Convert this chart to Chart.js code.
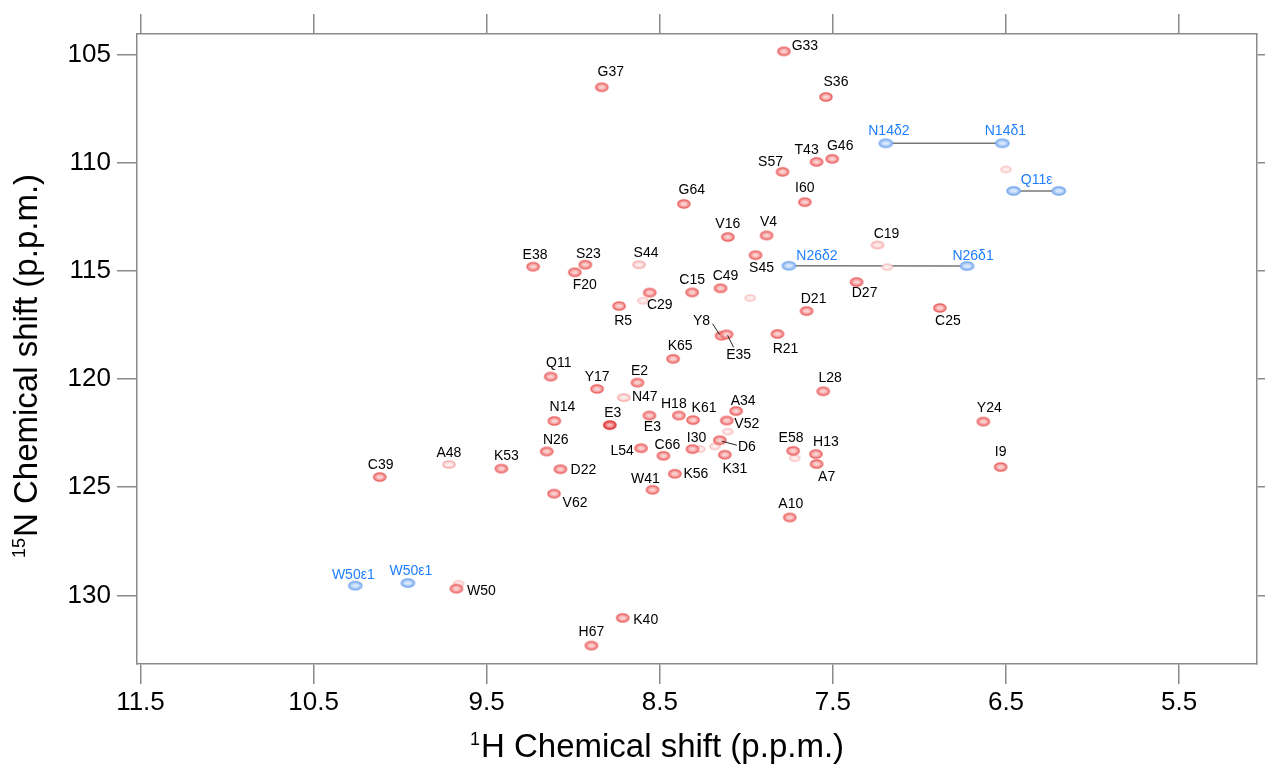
<!DOCTYPE html>
<html lang="en">
<head>
<meta charset="UTF-8">
<title>1H-15N HSQC spectrum</title>
<script src="https://cdn.jsdelivr.net/npm/chart.js"></script>
<style>
  html, body { margin: 0; padding: 0; background: #fff; }
  #wrap { width: 1265px; height: 765px; }
</style>
</head>
<body>
<div id="wrap"><canvas id="hsqc" width="1265" height="765"></canvas></div>
<script>
// backbone amide peaks (1H ppm, 15N ppm)
const resNames = ['G33','G37','S36','T43','G46','S57','I60','G64','V16','V4','C19',
  'E38','S23','F20','S44','S45','C15','C49','C29','R5','D21','D27','C25','Y8','E35','R21',
  'K65','Q11','E2','Y17','L28','N47','A34','H18','E3','K61','E3','N14','V52','Y24','D6',
  'N26','L54','C66','I30','K31','E58','H13','A7','A48','K53','D22','K56','I9','C39','W41',
  'V62','A10','W50','K40','H67'];
const resH = [7.783,8.835,7.540,7.594,7.504,7.791,7.662,8.361,8.107,7.883,7.242,
  9.232,8.930,8.991,8.620,7.947,8.313,8.149,8.558,8.735,7.652,7.363,6.882,8.143,8.114,7.820,
  8.423,9.130,8.629,8.862,7.556,8.708,8.059,8.390,8.560,8.308,8.789,9.109,8.113,6.631,8.153,
  9.153,8.608,8.479,8.311,8.124,7.730,7.598,7.594,9.718,9.415,9.074,8.413,6.531,10.118,8.542,
  9.111,7.749,9.675,8.714,8.895];
const resN = [104.86,106.52,106.97,109.97,109.83,110.43,111.83,111.91,113.44,113.37,113.81,
  114.81,114.72,115.07,114.72,114.28,116.00,115.81,116.01,116.63,116.86,115.52,116.72,118.00,117.94,117.92,
  119.07,119.89,120.17,120.46,120.57,120.86,121.48,121.69,121.69,121.90,122.13,121.94,121.92,121.97,122.83,
  123.35,123.20,123.55,123.24,123.50,123.32,123.47,123.93,123.95,124.14,124.17,124.38,124.07,124.53,125.12,
  125.30,126.40,129.69,131.04,132.32];
// 0 weak, 1 normal, 2 strong
const resIntensity = [1,1,1,1,1,1,1,1,1,1,0,
  1,1,1,0,1,1,1,1,1,1,1,1,1,1,1,
  1,1,1,1,1,0,1,1,1,1,2,1,1,1,1,
  1,1,1,1,1,1,1,1,0,1,1,1,1,1,1,
  1,1,1,1,1];

// side-chain peaks
const scNames = ['N14\u03b42','N14\u03b41','Q11\u03b5','','N26\u03b42','N26\u03b41','W50\u03b51','W50\u03b51'];
const scH = [7.194,6.521,6.456,6.195,7.754,6.725,10.259,9.955];
const scN = [109.11,109.11,111.31,111.31,114.77,114.78,129.55,129.43];
const scPairs = [[0,1],[2,3],[4,5]];

// unassigned weak peaks
const weakH = [6.500,7.186,7.978,8.597,8.182,8.107,8.269,7.720,9.662];
const weakN = [110.32,114.83,116.26,116.38,123.12,122.43,123.24,123.66,129.46];

const xTicks = [11.5,10.5,9.5,8.5,7.5,6.5,5.5];
const yTicks = [105,110,115,120,125,130];

// label placement (pixel offsets from the peak)
const resLabelPos = [[21,-5],[9,-15],[10,-15],[-10,-12],[8,-13],[-12,-10],[0,-14],[8,-14],[0,-13],[2,-13],[9,-11],
  [2,-12],[3,-11],[10,13],[7,-12],[6,13],[0,-12],[5,-12],[10,13],[4,15],[7,-12],[8,11],[8,13],[-20,-15],[12,21],[8,15],
  [7,-13],[8,-13],[2,-12],[0,-12],[7,-13],[21,0],[7,-10],[-5,-11],[3,12],[11,-12],[3,-12],[8,-14],[20,4],[6,-13],[27,7],
  [9,-11],[-19,3],[4,-11],[4,-11],[10,14],[-2,-13],[10,-12],[10,13],[0,-11],[5,-12],[23,1],[21,0],[0,-15],[1,-12],[-7,-11],
  [21,9],[1,-13],[25,2],[23,2],[0,-13]];
const scLabelPos = [[3,-12],[3,-12],[23,-11],[0,0],[28,-10],[6,-10],[-2,-11],[3,-12]];
// leader lines: [peak index, from dx,dy, to dx,dy]
const leaders = [[23,-2,-1,-9,-12],[24,1,1,7,13],[40,2,1,17,5]];

const FONT = "'Liberation Sans', Arial, Helvetica, sans-serif";
const AXIS = '#8a8a8a';

function peakImage(w, h, edge, fill, core) {
  const c = document.createElement('canvas');
  c.width = w + 4; c.height = h + 4;
  const g = c.getContext('2d');
  g.beginPath();
  g.ellipse(c.width / 2, c.height / 2, w / 2, h / 2, 0, 0, Math.PI * 2);
  g.fillStyle = fill; g.fill();
  g.lineWidth = 1.6; g.strokeStyle = edge; g.stroke();
  g.beginPath();
  g.ellipse(c.width / 2, c.height / 2, w / 2 - 3, h / 2 - 2.3, 0, 0, Math.PI * 2);
  g.fillStyle = core; g.fill();
  return c;
}
const redImgs = [
  peakImage(12, 7, '#f5b0b0', '#fbdada', '#fff0f0'),
  peakImage(12, 8, '#ec6666', '#f6a4a4', '#fbd2d2'),
  peakImage(12, 8, '#de3434', '#ee7676', '#f6b6b6')
];
const blueImg = peakImage(13, 8, '#78aaf0', '#aecdf6', '#dae8fb');
const weakImg = peakImage(10, 6, '#f8c4c4', '#fde6e6', '#fff6f6');

const pairSets = scPairs.map(([a, b]) => ({
  data: [{x: scH[a], y: scN[a]}, {x: scH[b], y: scN[b]}],
  showLine: true, borderColor: '#777', borderWidth: 1.5, pointRadius: 0, order: 5
}));

const peakLabels = {
  id: 'peakLabels',
  afterDatasetsDraw(chart) {
    const {ctx, scales: {x, y}} = chart;
    ctx.save();
    ctx.font = '14px ' + FONT;
    ctx.textAlign = 'center';
    ctx.textBaseline = 'middle';
    ctx.fillStyle = '#000';
    resNames.forEach((name, i) => {
      const px = x.getPixelForValue(resH[i]), py = y.getPixelForValue(resN[i]);
      ctx.fillText(name, px + resLabelPos[i][0], py + resLabelPos[i][1]);
    });
    ctx.fillStyle = '#1f7fff';
    scNames.forEach((name, i) => {
      if (!name) return;
      const px = x.getPixelForValue(scH[i]), py = y.getPixelForValue(scN[i]);
      ctx.fillText(name, px + scLabelPos[i][0], py + scLabelPos[i][1]);
    });
    ctx.strokeStyle = '#222';
    ctx.lineWidth = 1;
    leaders.forEach(([i, x0, y0, x1, y1]) => {
      const px = x.getPixelForValue(resH[i]), py = y.getPixelForValue(resN[i]);
      ctx.beginPath();
      ctx.moveTo(px + x0, py + y0);
      ctx.lineTo(px + x1, py + y1);
      ctx.stroke();
    });
    ctx.restore();
  }
};

const axisTitles = {
  id: 'axisTitles',
  afterDraw(chart) {
    const ctx = chart.ctx;
    ctx.save();
    ctx.fillStyle = '#000';
    ctx.textBaseline = 'alphabetic';
    ctx.textAlign = 'left';
    // x title
    const main = '33px ' + FONT, sup = '18px ' + FONT;
    ctx.font = sup; const w1 = ctx.measureText('1').width;
    ctx.font = main; const w2 = ctx.measureText('H Chemical shift (p.p.m.)').width;
    let x0 = 657 - (w1 + w2 + 1) / 2;
    ctx.font = sup; ctx.fillText('1', x0, 745);
    ctx.font = main; ctx.fillText('H Chemical shift (p.p.m.)', x0 + w1 + 1, 757);
    // y title
    ctx.translate(37, 366);
    ctx.rotate(-Math.PI / 2);
    ctx.font = sup; const v1 = ctx.measureText('15').width;
    ctx.font = main; const v2 = ctx.measureText('N Chemical shift (p.p.m.)').width;
    x0 = -(v1 + v2 + 1) / 2;
    ctx.font = sup; ctx.fillText('15', x0, -12);
    ctx.font = main; ctx.fillText('N Chemical shift (p.p.m.)', x0 + v1 + 1, 0);
    ctx.restore();
  }
};

const gridOpts = {display: true, drawOnChartArea: false, drawTicks: true, tickLength: 20, color: AXIS, lineWidth: 1.5};
const borderOpts = {display: true, color: AXIS, width: 1.5};

new Chart(document.getElementById('hsqc'), {
  type: 'scatter',
  data: {
    datasets: [
      {
        data: resH.map((h, i) => ({x: h, y: resN[i]})),
        pointStyle: ctx => redImgs[resIntensity[ctx.dataIndex]],
        order: 0
      },
      {
        data: scH.map((h, i) => ({x: h, y: scN[i]})),
        pointStyle: blueImg,
        order: 1
      },
      {
        data: weakH.map((h, i) => ({x: h, y: weakN[i]})),
        pointStyle: weakImg,
        order: 2
      },
      ...pairSets
    ]
  },
  options: {
    responsive: false,
    animation: false,
    layout: {padding: 0},
    plugins: {legend: {display: false}, tooltip: {enabled: false}},
    scales: {
      x: {
        type: 'linear', position: 'bottom', reverse: true, min: 5.05, max: 11.52,
        afterBuildTicks: s => { s.ticks = xTicks.map(v => ({value: v})); },
        afterFit: s => { s.height = 101; },
        ticks: {font: {size: 26, family: FONT}, color: '#000', padding: 3, maxRotation: 0, autoSkip: false,
          callback: v => v.toFixed(1)},
        grid: gridOpts, border: borderOpts
      },
      x2: {
        type: 'linear', position: 'top', reverse: true, min: 5.05, max: 11.52,
        afterBuildTicks: s => { s.ticks = xTicks.map(v => ({value: v})); },
        afterFit: s => { s.height = 34; },
        ticks: {display: false},
        grid: gridOpts, border: borderOpts
      },
      y: {
        type: 'linear', position: 'left', reverse: true, min: 104.06, max: 133.17,
        afterBuildTicks: s => { s.ticks = yTicks.map(v => ({value: v})); },
        afterFit: s => { s.width = 137; },
        ticks: {font: {size: 26, family: FONT}, color: '#000', padding: 6, autoSkip: false,
          callback: v => String(v)},
        grid: gridOpts, border: borderOpts
      },
      y2: {
        type: 'linear', position: 'right', reverse: true, min: 104.06, max: 133.17,
        afterBuildTicks: s => { s.ticks = yTicks.map(v => ({value: v})); },
        afterFit: s => { s.width = 8; },
        ticks: {display: false},
        grid: gridOpts, border: borderOpts
      }
    }
  },
  plugins: [peakLabels, axisTitles]
});
</script>
</body>
</html>
